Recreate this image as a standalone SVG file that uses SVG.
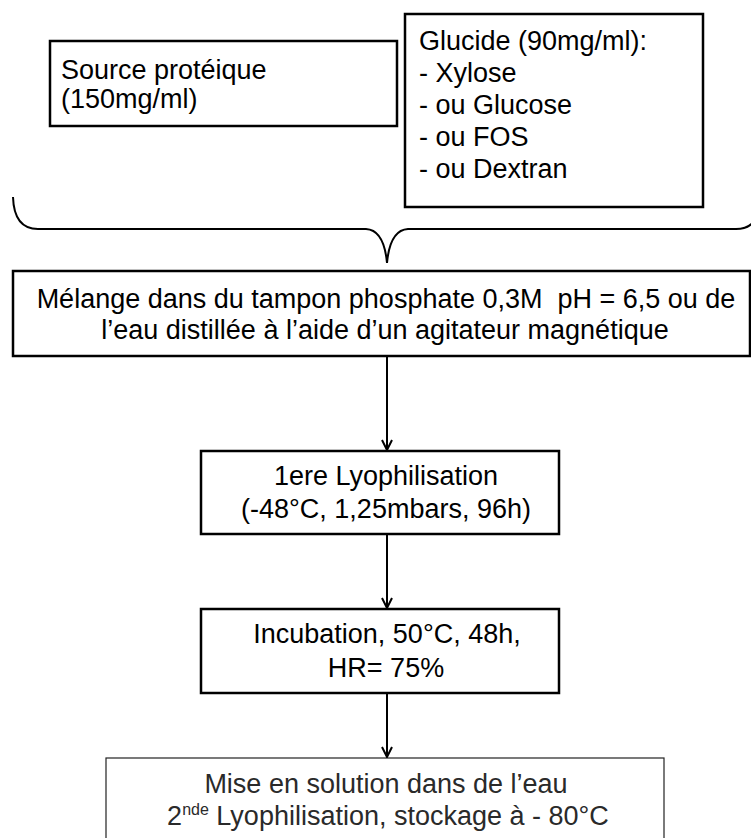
<svg xmlns="http://www.w3.org/2000/svg" width="751" height="838" viewBox="0 0 751 838">
<defs>
<style>
.box{fill:#fff;stroke:#000;stroke-width:2.5}
.box2{fill:#fff;stroke:#222;stroke-width:1.2}
.t{font-family:"Liberation Sans",Arial,sans-serif;font-size:27px;fill:#000}
.tc{text-anchor:middle}
.t2{font-family:"Liberation Sans",Arial,sans-serif;font-size:27px;fill:#2a2a2a;text-anchor:middle}
.ln{fill:none;stroke:#000;stroke-width:2}
</style>
<marker id="ah" viewBox="0 0 12 12" refX="11" refY="6" markerWidth="12" markerHeight="12" markerUnits="userSpaceOnUse" orient="auto">
<path d="M1,1 L11,6 L1,11" fill="none" stroke="#000" stroke-width="2"/>
</marker>
</defs>
<rect width="751" height="838" fill="#fff"/>
<g id="source">
<rect class="box" x="50" y="41" width="347" height="85"/>
<text class="t" x="61" y="79">Source protéique</text>
<text class="t" x="61" y="108">(150mg/ml)</text>
</g>
<g id="glucide">
<rect class="box" x="405" y="14" width="298" height="193"/>
<text class="t" x="419" y="50">Glucide (90mg/ml):</text>
<text class="t" x="419" y="82">- Xylose</text>
<text class="t" x="419" y="114">- ou Glucose</text>
<text class="t" x="419" y="146">- ou FOS</text>
<text class="t" x="419" y="178">- ou Dextran</text>
</g>
<g id="melange">
<rect class="box" x="13" y="271" width="737" height="85"/>
<text class="t tc" x="386" y="308" xml:space="preserve">Mélange dans du tampon phosphate 0,3M  pH = 6,5 ou de</text>
<text class="t tc" x="385" y="339">l’eau distillée à l’aide d’un agitateur magnétique</text>
</g>
<g id="lyophilisation">
<rect class="box" x="201" y="451" width="358" height="83"/>
<text class="t tc" x="386" y="485">1ere Lyophilisation</text>
<text class="t tc" x="386" y="518">(-48°C, 1,25mbars, 96h)</text>
</g>
<g id="incubation">
<rect class="box" x="201" y="609" width="358" height="84"/>
<text class="t tc" x="387" y="643">Incubation, 50°C, 48h,</text>
<text class="t tc" x="386" y="677">HR= 75%</text>
</g>
<g id="solution">
<rect class="box2" x="106" y="758" width="558" height="100"/>
<text class="t2" x="386" y="793">Mise en solution dans de l’eau</text>
<text class="t2" x="388" y="825">2<tspan font-size="16" dy="-10">nde</tspan><tspan dy="10"> Lyophilisation, stockage à - 80°C</tspan></text>
</g>
<g id="connectors">
<path class="ln" d="M13,197 Q14,229 38,229 H366 Q384,230 387,263 Q390,230 408,229 H736 Q760,229 761,197"/>
<line class="ln" x1="387" y1="356" x2="387" y2="450" marker-end="url(#ah)"/>
<line class="ln" x1="387" y1="534" x2="387" y2="608" marker-end="url(#ah)"/>
<line class="ln" x1="387" y1="693" x2="387" y2="757" marker-end="url(#ah)"/>
</g>
</svg>
